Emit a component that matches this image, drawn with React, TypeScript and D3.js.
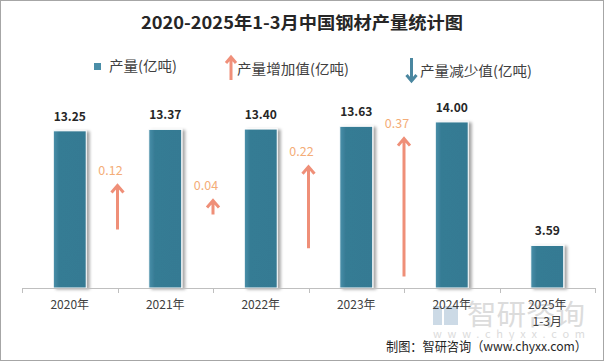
import React, { useEffect, useRef } from "react";
import * as d3 from "d3";

const categories = ["2020年", "2021年", "2022年", "2023年", "2024年", "2025年|1-3月"];
const production = [13.25, 13.37, 13.4, 13.63, 14.0, 3.59];
const increases = [0.12, 0.04, 0.22, 0.37];
const legendLabels = ["产量(亿吨)", "产量增加值(亿吨)", "产量减少值(亿吨)"];
const title = "2020-2025年1-3月中国钢材产量统计图";
const source = "制图：智研咨询（www.chyxx.com）";

const width = 604;
const height = 361;
const sans = "'Noto Sans CJK SC', 'Noto Sans', sans-serif";

const App = () => {
  const svgRef = useRef(null);

  useEffect(() => {
    const svg = d3.select(svgRef.current);
    svg.selectAll("*").remove();

    const defs = svg.append("defs");
    const grad = defs.append("linearGradient").attr("id", "barGrad").attr("x1", 0).attr("x2", 1).attr("y1", 0).attr("y2", 0);
    grad.append("stop").attr("offset", "0%").attr("stop-color", "#4a90aa");
    grad.append("stop").attr("offset", "18%").attr("stop-color", "#367b94");
    grad.append("stop").attr("offset", "100%").attr("stop-color", "#357a93");
    const shadow = defs.append("filter").attr("id", "shadow").attr("x", "-20%").attr("y", "-20%").attr("width", "160%").attr("height", "140%");
    shadow.append("feDropShadow").attr("dx", 3).attr("dy", 1).attr("stdDeviation", 1.5).attr("flood-color", "#000").attr("flood-opacity", 0.35);

    // frame
    svg.append("rect").attr("x", 0.5).attr("y", 0.5).attr("width", width - 1).attr("height", height - 1)
      .attr("fill", "#fff").attr("stroke", "#a6a6a6");

    // title
    svg.append("text").attr("x", 302).attr("y", 29).attr("text-anchor", "middle")
      .attr("font-family", sans).attr("font-weight", "bold").attr("font-size", 17).attr("fill", "#262626")
      .attr("textLength", 322).attr("lengthAdjust", "spacingAndGlyphs").text(title);

    // legend
    const lg = svg.append("g").attr("font-family", sans).attr("font-size", 14).attr("fill", "#404040");
    lg.append("rect").attr("x", 94).attr("y", 63).attr("width", 7).attr("height", 7).attr("fill", "#4a8ea8");
    lg.append("text").attr("x", 109).attr("y", 71).attr("textLength", 68).attr("lengthAdjust", "spacingAndGlyphs").text(legendLabels[0]);
    lg.append("path").attr("d", "M231,80V58 M226,63L231,57L236,63").attr("stroke", "#f0907a").attr("stroke-width", 3).attr("fill", "none");
    lg.append("text").attr("x", 237).attr("y", 74).attr("textLength", 112).attr("lengthAdjust", "spacingAndGlyphs").text(legendLabels[1]);
    lg.append("path").attr("d", "M411.5,58V80 M406.5,75L411.5,81L416.5,75").attr("stroke", "#4a87a0").attr("stroke-width", 3).attr("fill", "none");
    lg.append("text").attr("x", 420).attr("y", 76).attr("textLength", 112).attr("lengthAdjust", "spacingAndGlyphs").text(legendLabels[2]);

    // scales
    const x = d3.scaleBand().domain(categories).range([22, 595]).paddingInner(0.655).paddingOuter(0.3275);
    const y = d3.scaleLinear().domain([0, 16]).range([288, 98.2]);
    const step = x.step();
    const arrowLen = d3.scaleLinear().domain([0, 0.4]).range([0, 150]);
    const arrowMid = 207;

    // watermark
    const wm = svg.append("g").attr("fill", "#dcdcdc");
    wm.append("rect").attr("x", 433).attr("y", 306).attr("width", 9).attr("height", 19).attr("fill", "#ccdae6");
    wm.append("rect").attr("x", 444).attr("y", 306).attr("width", 14).attr("height", 19).attr("fill", "#ccdae6");
    wm.append("text").attr("x", 467).attr("y", 325).attr("font-family", sans).attr("font-size", 28)
      .attr("textLength", 118).attr("lengthAdjust", "spacingAndGlyphs").text("智研咨询");
    wm.append("text").attr("x", 433).attr("y", 338).attr("font-family", sans).attr("font-size", 11)
      .attr("textLength", 152).attr("lengthAdjust", "spacing").text("www.chyxx.com");

    // bars
    svg.append("g").selectAll("rect").data(production).join("rect")
      .attr("x", (d, i) => x(categories[i]))
      .attr("y", (d) => y(d))
      .attr("width", x.bandwidth())
      .attr("height", (d) => y(0) - y(d))
      .attr("fill", "url(#barGrad)")
      .attr("stroke", "#fff")
      .attr("stroke-width", 1)
      .attr("filter", "url(#shadow)");

    svg.append("g").selectAll("text").data(production).join("text")
      .attr("x", (d, i) => x(categories[i]) + x.bandwidth() / 2)
      .attr("y", (d) => y(d) - 10)
      .attr("text-anchor", "middle")
      .attr("font-family", sans).attr("font-weight", "bold").attr("font-size", 12).attr("fill", "#262626")
      .text((d) => d.toFixed(2));

    // increase arrows
    const ag = svg.append("g");
    increases.forEach((v, i) => {
      const ax = x(categories[i]) + x.bandwidth() / 2 + step / 2;
      const len = arrowLen(v);
      const top = arrowMid - len / 2;
      const bot = arrowMid + len / 2;
      ag.append("path")
        .attr("d", `M${ax},${bot}V${top + 1} M${ax - 6},${top + 8}L${ax},${top + 1}L${ax + 6},${top + 8}`)
        .attr("stroke", "#ef8f78").attr("stroke-width", 3).attr("fill", "none");
      ag.append("text").attr("x", ax - 7).attr("y", top - 10).attr("text-anchor", "middle")
        .attr("font-family", sans).attr("font-size", 12.5).attr("fill", "#f4ad78")
        .text(v.toFixed(2));
    });

    // axis
    const axis = svg.append("g");
    axis.append("line").attr("x1", 22).attr("x2", 595).attr("y1", 288.5).attr("y2", 288.5).attr("stroke", "#bfbfbf");
    d3.range(categories.length + 1).forEach((i) => {
      const tx = Math.round(22 + i * step) + 0.5;
      axis.append("line").attr("x1", tx).attr("x2", tx).attr("y1", 288).attr("y2", 293).attr("stroke", "#bfbfbf");
    });
    categories.forEach((c) => {
      const t = axis.append("text").attr("text-anchor", "middle").attr("font-family", sans).attr("font-size", 12).attr("fill", "#404040");
      c.split("|").forEach((line, j) => {
        t.append("tspan").attr("x", x(c) + x.bandwidth() / 2).attr("y", 309 + j * 17).text(line);
      });
    });

    // source
    svg.append("text").attr("x", 587).attr("y", 351).attr("text-anchor", "end")
      .attr("font-family", sans).attr("font-size", 13).attr("fill", "#262626")
      .attr("textLength", 201).attr("lengthAdjust", "spacingAndGlyphs").text(source);
  }, []);

  return (
    <svg ref={svgRef} width={width} height={height} style={{ position: "absolute", left: 0, top: 0, display: "block" }}></svg>
  );
};

export default App;
